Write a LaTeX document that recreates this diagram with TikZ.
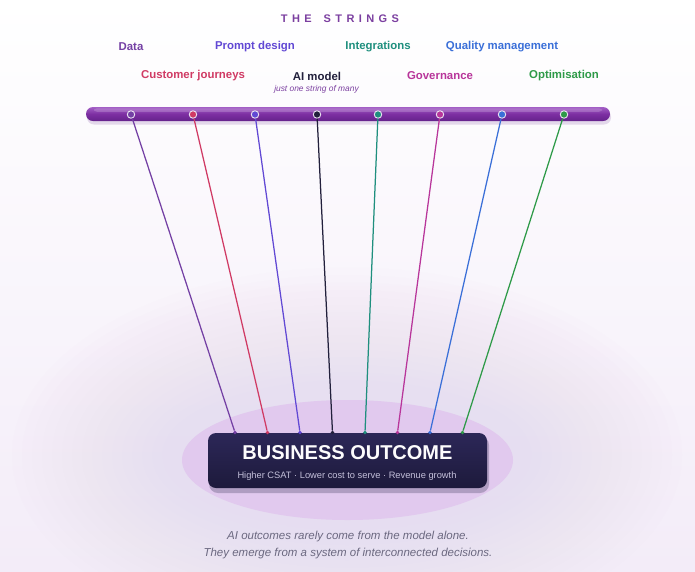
\documentclass[tikz,border=0pt]{standalone}
\usepackage{fontspec}
\setmainfont{Liberation Sans}
\definecolor{c1}{HTML}{7440A4}
\definecolor{c2}{HTML}{D03A64}
\definecolor{c3}{HTML}{6148D4}
\definecolor{c4}{HTML}{22203C}
\definecolor{c5}{HTML}{1F8F7E}
\definecolor{c6}{HTML}{B8359A}
\definecolor{c7}{HTML}{3A6FD8}
\definecolor{c8}{HTML}{2E9A48}
\definecolor{titlec}{HTML}{7B3FA0}
\definecolor{bgbot}{HTML}{F3ECF8}
\definecolor{glowc}{HTML}{E6D6F1}
\definecolor{halo}{HTML}{E1C9EE}
\definecolor{boxtop}{HTML}{2C2758}
\definecolor{boxbot}{HTML}{1D1A3B}
\definecolor{bartop}{HTML}{A35FC6}
\definecolor{barmid}{HTML}{7D2FA2}
\definecolor{barbot}{HTML}{65228C}
\definecolor{subc}{HTML}{C4C0DA}
\definecolor{capc}{HTML}{6B6880}
\begin{document}
\begin{tikzpicture}[x=1pt,y=-1pt,
  lbl/.style={font=\fontsize{11.4}{13}\selectfont\bfseries, inner sep=0pt},
  dotnode/.style={circle, minimum size=7.5pt, inner sep=0pt, draw=white!85!c1, line width=0.9pt},
  enddot/.style={circle, minimum size=3.6pt, inner sep=0pt},
  stringline/.style={line width=1.25pt},
  outbox/.style={rounded corners=8pt, top color=boxtop, bottom color=boxbot, minimum width=279pt, minimum height=55pt, inner sep=0pt},
  barstyle/.style={rounded corners=7pt, top color=bartop, bottom color=barbot, middle color=barmid, minimum width=524pt, minimum height=14pt, inner sep=0pt}
]
\useasboundingbox (0,0) rectangle (695,571);
\shade[top color=white, bottom color=bgbot] (0,0) rectangle (695,571);
% soft glow
\foreach \t in {0,1,...,15}
  \fill[glowc, opacity=0.045] (347,455) ellipse ({185+10*\t} and {75+7.5*\t});
\fill[halo] (347.5,460) ellipse (165.5 and 60);

% title
\node[font=\fontsize{11}{13}\selectfont\bfseries, text=titlec, inner sep=0pt] (title) at (340,19)
  {T\kern4.4pt H\kern4.4pt E\kern12pt S\kern4.4pt T\kern4.4pt R\kern4.4pt I\kern4.4pt N\kern4.4pt G\kern4.4pt S};

% labels
\node[lbl, text=c1] (l1) at (131,47) {Data};
\node[lbl, text=c3] (l3) at (255,47) {Prompt design};
\node[lbl, text=c5] (l5) at (378,47) {Integrations};
\node[lbl, text=c7] (l7) at (502,47) {Quality management};
\node[lbl, text=c2] (l2) at (193,76) {Customer journeys};
\node[lbl, text=c4] (l4) at (317,76) {AI model};
\node[lbl, text=c6] (l6) at (440,76) {Governance};
\node[lbl, text=c8] (l8) at (564,76) {Optimisation};
\node[font=\fontsize{8.4}{10}\selectfont\itshape, text=titlec, inner sep=0pt] (sub4) at (316.5,89) {just one string of many};

% bar
\fill[barbot, opacity=0.16, rounded corners=7pt] (87,110) rectangle (611,124.5);
\node[barstyle] (bar) at (348,114) {};
\fill[white, opacity=0.18, rounded corners=3pt] (94,108.3) rectangle (602,111.8);

% box
\fill[boxbot, opacity=0.25, rounded corners=9pt] (209,436) rectangle (489,493);
\node[outbox] (box) at (347.5,460.5) {};
\node[font=\fontsize{20}{22}\selectfont\bfseries, text=white!96!subc, inner sep=0pt] (boxtitle) at (347.5,453) {BUSINESS OUTCOME};
\node[font=\fontsize{9.3}{11}\selectfont, text=subc, inner sep=0pt] (boxsub) at (347,476) {Higher CSAT · Lower cost to serve · Revenue growth};

% strings
\foreach \i/\x/\ex in {1/131/235, 2/193/267.5, 3/255/300, 4/317/332.5, 5/378/365, 6/440/397.5, 7/502/430, 8/564/462.5} {
  \node[dotnode, fill=c\i] (d\i) at (\x,114.5) {};
  \node[enddot, fill=c\i] (e\i) at (\ex,432.5) {};
  \draw[stringline, c\i] (d\i) -- (e\i);
}

% caption
\node[font=\fontsize{11.5}{13}\selectfont\itshape, text=capc, inner sep=0pt] (cap1) at (348,537) {AI outcomes rarely come from the model alone.};
\node[font=\fontsize{11.5}{13}\selectfont\itshape, text=capc, inner sep=0pt] (cap2) at (348,554) {They emerge from a system of interconnected decisions.};
\end{tikzpicture}
\end{document}
